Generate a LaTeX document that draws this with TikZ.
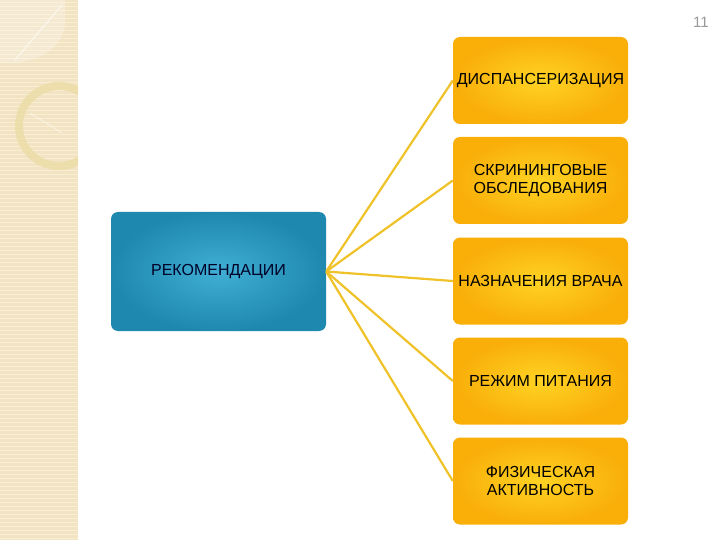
\documentclass[tikz,border=0pt]{standalone}
\usepackage{fontspec}
\setmainfont{Liberation Sans}
\definecolor{strip}{HTML}{F2E4C2}
\definecolor{stripline}{HTML}{F8EED6}
\definecolor{ringc}{HTML}{ECDCA6}
\definecolor{linkc}{HTML}{F0C22A}
\definecolor{orin}{HTML}{FFD323}
\definecolor{orout}{HTML}{F9AE08}
\definecolor{blin}{HTML}{40AED4}
\definecolor{blout}{HTML}{1F88AE}
\tikzset{
  obox/.style={rounded corners=7pt, inner color=orin, outer color=orout, minimum width=175pt, minimum height=87pt, align=center, font=\fontsize{16}{18}\selectfont, text=black, inner sep=0pt},
  bbox/.style={rounded corners=7pt, inner color=blin, outer color=blout, minimum width=215pt, minimum height=119pt, align=center, font=\fontsize{16}{18}\selectfont, text=black!85!blue, inner sep=0pt},
  link/.style={draw=linkc, line width=2.2pt}
}
\begin{document}
\begin{tikzpicture}[x=1pt,y=-1pt]
\useasboundingbox (0,0) rectangle (720,540);
\fill[white] (0,0) rectangle (720,540);
% left decorative strip
\fill[strip] (0,0) rectangle (78,540);
\foreach \y in {2,6,...,538} {\draw[stripline, line width=0.8pt] (0,\y) -- (78,\y);}
\begin{scope}
\clip (0,0) rectangle (78,540);
\fill[white, opacity=0.25] (0,0) -- (65,0) -- (65,25) .. controls (62,45) and (45,60) .. (15,63) -- (0,63) -- cycle;
\draw[white, opacity=0.6, line width=1pt] (62,5) -- (15,60);
\draw[ringc, opacity=0.8, line width=8pt] (59,126) circle (40);
\draw[white, opacity=0.5, line width=1pt] (30,113) -- (62,133);
\end{scope}
% page number
\node[text=gray!80, font=\fontsize{15}{17}\selectfont] (pg) at (701,22) {11};
% nodes
\node[bbox] (rec) at (218.5,271.5) {РЕКОМЕНДАЦИИ};
\node[obox] (d1) at (540.5,80.5) {ДИСПАНСЕРИЗАЦИЯ};
\node[obox] (d2) at (540.5,180.5) {СКРИНИНГОВЫЕ\\ОБСЛЕДОВАНИЯ};
\node[obox] (d3) at (540.5,281) {НАЗНАЧЕНИЯ ВРАЧА};
\node[obox] (d4) at (540.5,381) {РЕЖИМ ПИТАНИЯ};
\node[obox] (d5) at (540.5,481) {ФИЗИЧЕСКАЯ\\АКТИВНОСТЬ};
% connectors
\coordinate (hub) at (rec.east);
\foreach \n in {d1,d2,d3,d4,d5} {\draw[link] (hub) -- (\n.west);}
\end{tikzpicture}
\end{document}
